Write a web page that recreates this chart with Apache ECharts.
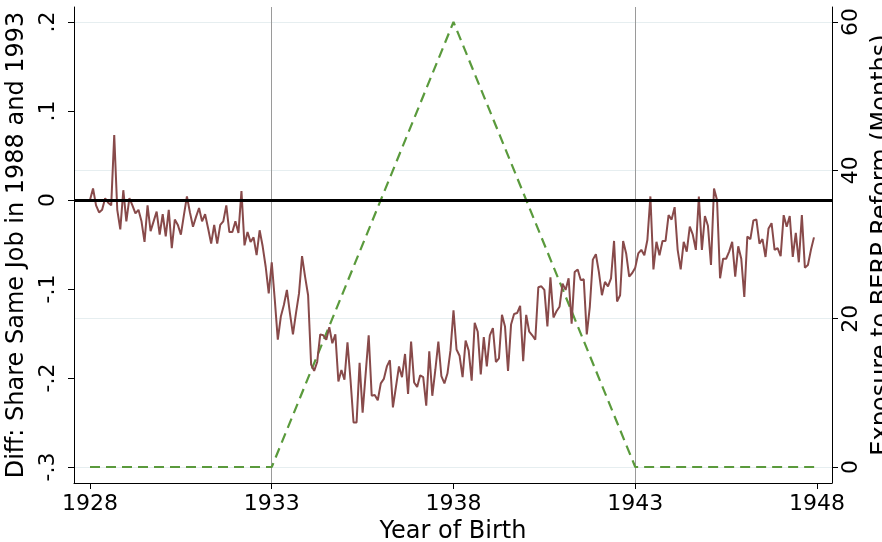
<!DOCTYPE html>
<html><head><meta charset="utf-8">
<script src="https://cdn.jsdelivr.net/npm/echarts@6/dist/echarts.min.js"></script>
<style>html,body{margin:0;padding:0;background:#fff}#c{width:882px;height:542px}</style>
</head><body><div id="c"></div>
<script>
const startYear = 1928;
const diffShare = [
0.000, 0.013, -0.006, -0.014, -0.011, 0.002, -0.003, -0.006, 0.073, -0.011,
-0.033, 0.011, -0.024, 0.002, -0.006, -0.015, -0.011, -0.024, -0.047, -0.006,
-0.035, -0.024, -0.013, -0.039, -0.016, -0.041, -0.011, -0.054, -0.022, -0.028,
-0.039, -0.017, 0.004, -0.014, -0.030, -0.019, -0.009, -0.024, -0.016, -0.032,
-0.049, -0.028, -0.049, -0.028, -0.024, -0.006, -0.036, -0.036,
-0.024, -0.037, 0.010, -0.051, -0.036, -0.047, -0.042, -0.062, -0.034, -0.052,
-0.075, -0.105, -0.070, -0.112, -0.157, -0.131, -0.118, -0.101, -0.127, -0.151,
-0.127, -0.105, -0.063, -0.086, -0.107, -0.185, -0.192, -0.182, -0.151, -0.152,
-0.157, -0.143, -0.161, -0.151, -0.204, -0.191, -0.202, -0.160, -0.202, -0.250,
-0.250, -0.183, -0.239, -0.195, -0.152, -0.220, -0.219, -0.225,
-0.206, -0.201, -0.187, -0.180, -0.233, -0.210, -0.187, -0.199, -0.173, -0.218,
-0.159, -0.205, -0.210, -0.197, -0.199, -0.231, -0.170, -0.220, -0.191, -0.159,
-0.198, -0.206, -0.195, -0.169, -0.124, -0.168, -0.175, -0.199, -0.158, -0.169,
-0.203, -0.138, -0.148, -0.196, -0.154, -0.187, -0.152, -0.144, -0.182, -0.178,
-0.129, -0.142, -0.192, -0.140, -0.128, -0.127, -0.119, -0.181,
-0.129, -0.148, -0.152, -0.157, -0.098, -0.097, -0.101, -0.142, -0.087, -0.132,
-0.125, -0.120, -0.094, -0.101, -0.088, -0.139, -0.081, -0.078, -0.090, -0.089,
-0.151, -0.120, -0.067, -0.061, -0.081, -0.107, -0.092, -0.097, -0.088, -0.046,
-0.114, -0.107, -0.046, -0.060, -0.086, -0.082, -0.076, -0.060, -0.056, -0.062,
-0.045, 0.004, -0.078, -0.047, -0.062, -0.046, -0.046,
-0.017, -0.022, -0.008, -0.056, -0.078, -0.047, -0.058, -0.030, -0.039, -0.056,
0.004, -0.056, -0.018, -0.029, -0.073, 0.013, 0.000, -0.088, -0.066, -0.066,
-0.058, -0.047, -0.086, -0.052, -0.066, -0.109, -0.041, -0.044, -0.023, -0.022,
-0.049, -0.044, -0.064, -0.032, -0.026, -0.056, -0.054, -0.063, -0.017, -0.030,
-0.018, -0.064, -0.037, -0.070, -0.017, -0.076, -0.073, -0.056, -0.042
];
const exposureYears = [1928, 1933, 1938, 1943, 1948];
const exposureMonths = [0, 0, 60, 0, 0];
const xTicks = [1928, 1933, 1938, 1943, 1948];
const leftTicks = [-0.3, -0.2, -0.1, 0, 0.1, 0.2];
const rightTicks = [0, 20, 40, 60];
const refYears = [1933, 1943];
const zeroValue = 0;

const FONT = 'DejaVu Sans';
// layout: plot frame pixels
const G = {left: 74, right: 50, top: 7, bottom: 59};
const xPx = {lo: 16, hi: 15, perUnit: 36.35};
const yPx = {lo: 16, hi: 15, perUnit: 890};
const y2Px = {perUnit: 445 / 60};

function fmtLeft(v) {
  const r = Math.round(v * 10) / 10;
  if (r === 0) return '0';
  return (r < 0 ? '-' : '') + String(Math.abs(r)).replace(/^0/, '');
}

const chart = echarts.init(document.getElementById('c'), null, {renderer: 'canvas'});
chart.setOption({
  animation: false,
  backgroundColor: '#ffffff',
  grid: {left: G.left, right: G.right, top: G.top, bottom: G.bottom, containLabel: false, outerBoundsMode: 'none'},
  xAxis: {
    type: 'value',
    min: xTicks[0] - xPx.lo / xPx.perUnit,
    max: xTicks[xTicks.length - 1] + xPx.hi / xPx.perUnit,
    name: 'Year of Birth', nameLocation: 'middle', nameGap: 34,
    nameTextStyle: {fontFamily: FONT, fontSize: 24, color: '#000'},
    axisLine: {show: true, onZero: false, lineStyle: {color: '#000', width: 1}},
    axisTick: {show: true, length: 6, customValues: xTicks, lineStyle: {color: '#000'}},
    axisLabel: {customValues: xTicks, margin: 10, fontFamily: FONT, fontSize: 22, color: '#000',
      formatter: v => String(Math.round(v))},
    splitLine: {show: false}
  },
  yAxis: [{
    type: 'value',
    min: leftTicks[0] - yPx.lo / yPx.perUnit,
    max: leftTicks[leftTicks.length - 1] + yPx.hi / yPx.perUnit,
    name: 'Diff: Share Same Job in 1988 and 1993', nameLocation: 'middle', nameGap: 45,
    nameTextStyle: {fontFamily: FONT, fontSize: 24, color: '#000'},
    axisLine: {show: true, onZero: false, lineStyle: {color: '#000', width: 1}},
    axisTick: {show: true, length: 6, customValues: leftTicks, lineStyle: {color: '#000'}},
    axisLabel: {customValues: leftTicks, rotate: 90, margin: 15, fontFamily: FONT, fontSize: 22, color: '#000',
      formatter: fmtLeft},
    splitLine: {show: false}
  }, {
    type: 'value', position: 'right',
    min: rightTicks[0] - yPx.lo / y2Px.perUnit,
    max: rightTicks[rightTicks.length - 1] + yPx.hi / y2Px.perUnit,
    name: 'Exposure to BERP Reform (Months)', nameLocation: 'middle', nameGap: 38,
    nameTextStyle: {fontFamily: FONT, fontSize: 24, color: '#000'},
    axisLine: {show: true, onZero: false, lineStyle: {color: '#000', width: 1}},
    axisTick: {show: true, length: 6, customValues: rightTicks, lineStyle: {color: '#000'}},
    axisLabel: {customValues: rightTicks, rotate: 90, margin: 8, fontFamily: FONT, fontSize: 22, color: '#000',
      formatter: v => String(Math.round(v))},
    splitLine: {show: true, lineStyle: {color: '#e6eef0', width: 1}}
  }],
  series: [{
    type: 'line', yAxisIndex: 1, z: 1,
    data: exposureYears.map((y, i) => [y, exposureMonths[i]]),
    showSymbol: false, silent: true,
    lineStyle: {color: '#5a9a3c', width: 2.2, type: [10, 6]},
    markLine: {
      silent: true, symbol: 'none', label: {show: false}, z: 0,
      lineStyle: {color: '#9a9a9a', width: 1, type: 'solid'},
      data: refYears.map(y => ({xAxis: y}))
    }
  }, {
    type: 'line', yAxisIndex: 0, z: 3,
    data: diffShare.map((v, i) => [startYear + i / 12, v]),
    showSymbol: false, silent: true,
    lineStyle: {color: '#884a4a', width: 2},
    markLine: {
      silent: true, symbol: 'none', label: {show: false},
      lineStyle: {color: '#000', width: 3, type: 'solid'},
      data: [{yAxis: zeroValue}]
    }
  }]
});
</script>
</body></html>
